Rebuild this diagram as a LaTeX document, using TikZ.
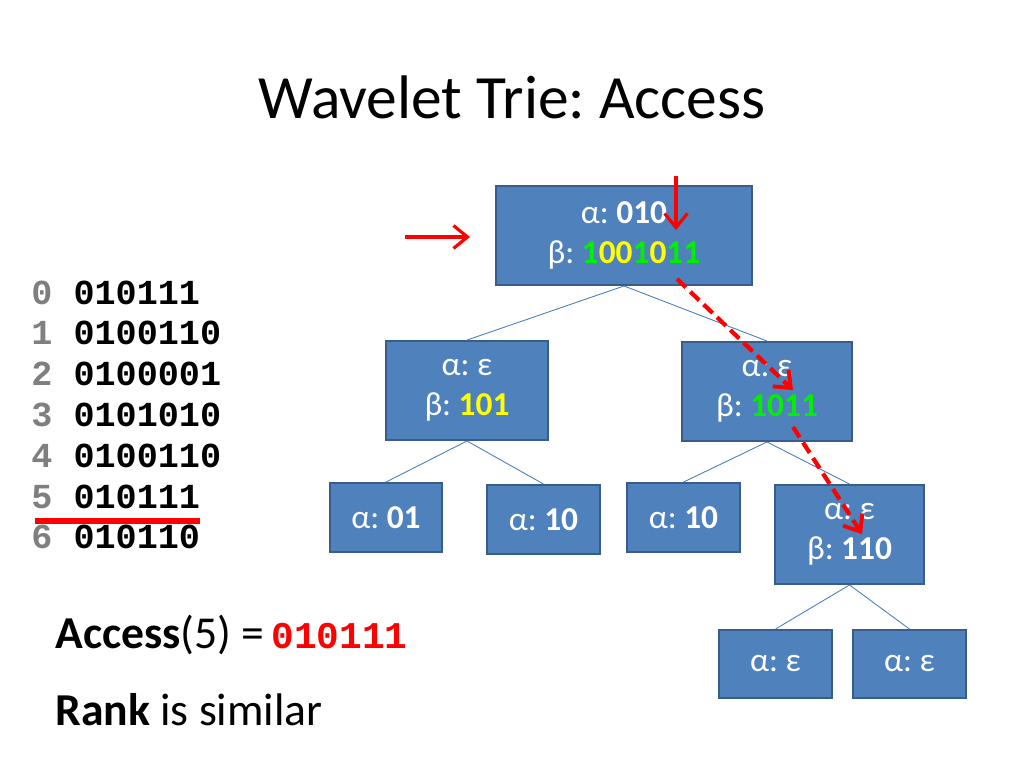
\documentclass[tikz,border=0pt]{standalone}
\usepackage{fontspec}
\setmainfont{Carlito}
\newfontfamily\codefont{Liberation Mono}
\usetikzlibrary{arrows.meta}
\frenchspacing

\definecolor{boxfill}{HTML}{4F81BD}
\definecolor{boxline}{HTML}{385D8A}
\definecolor{edgeblue}{HTML}{4A7EBB}
\definecolor{bitgreen}{HTML}{00F000}
\definecolor{bityellow}{HTML}{FFFF00}
\definecolor{indexgray}{HTML}{7F7F7F}
\definecolor{pathred}{HTML}{FF0000}

\newcommand{\bitone}{\textcolor{bitgreen}{1}}
\newcommand{\bitzero}{\textcolor{bityellow}{0}}

\tikzset{
  trienode/.style={draw=boxline, line width=1.1pt, fill=boxfill, text=white,
    inner sep=0pt, align=center, font=\fontsize{19}{23}\selectfont},
  trieedge/.style={draw=edgeblue, line width=0.5pt},
  patharrow/.style={draw=pathred, line width=1.8pt,
    -{Straight Barb[length=8pt, width=13pt, line width=1.8pt]}},
  pathdash/.style={patharrow, line width=2.4pt, dash pattern=on 7pt off 3.5pt,
    -{Straight Barb[length=8pt, width=13pt, line width=2.2pt]}}
}

\begin{document}
\begin{tikzpicture}[x=0.02cm, y=-0.02cm]
  \useasboundingbox (0,0) rectangle (1024,768);

  % Title
  \node [anchor=base] (title) at (512,118) {\fontsize{35}{42}\selectfont Wavelet Trie: Access};

  % Drawing the list of strings
  \foreach \i/\s in {0/010111, 1/0100110, 2/0100001, 3/0101010, 4/0100110, 5/010111, 6/010110} {
    \node [anchor=base west, inner sep=0pt, font=\codefont\bfseries\fontsize{20}{24}\selectfont]
      (row\i) at (31,304+40.8*\i) {\textcolor{indexgray}{\i}\ \s};
  }
  \draw [pathred, line width=3.2pt] (35,521) -- (200,521);

  % Drawing node root
  \node [trienode, minimum width=5.12cm, minimum height=1.98cm] (root) at (624,235.5)
    {α: \textbf{010}\\ β: \textbf{\bitone\bitzero\bitzero\bitone\bitzero\bitone\bitone}};

  % Drawing level 1
  \node [trienode, minimum width=3.24cm, minimum height=1.98cm] (n0) at (467,390.5)
    {α: ε\\ β: \textbf{\textcolor{bityellow}{101}}};
  \node [trienode, minimum width=3.40cm, minimum height=1.98cm] (n1) at (767,391.5)
    {α: ε\\ β: \textbf{\textcolor{bitgreen}{1011}}};

  % Drawing level 2
  \node [trienode, minimum width=2.24cm, minimum height=1.38cm] (n00) at (386,517.5) {α: \textbf{01}};
  \node [trienode, minimum width=2.26cm, minimum height=1.38cm] (n01) at (543.5,519.5) {α: \textbf{10}};
  \node [trienode, minimum width=2.26cm, minimum height=1.38cm] (n10) at (683.5,517.5) {α: \textbf{10}};
  \node [trienode, minimum width=2.98cm, minimum height=1.98cm] (n11) at (849.5,534.5)
    {α: ε\\ β: \textbf{110}};

  % Drawing level 3
  \node [trienode, minimum width=2.26cm, minimum height=1.36cm] (n110) at (775.5,664) {α: ε};
  \node [trienode, minimum width=2.26cm, minimum height=1.36cm] (n111) at (909.5,664) {α: ε};

  % Drawing edges
  \draw [trieedge] (root.south) -- (n0.north);
  \draw [trieedge] (root.south) -- (n1.north);
  \draw [trieedge] (n0.south) -- (n00.north);
  \draw [trieedge] (n0.south) -- (n01.north);
  \draw [trieedge] (n1.south) -- (n10.north);
  \draw [trieedge] (n1.south) -- (n11.north);
  \draw [trieedge] (n11.south) -- (n110.north);
  \draw [trieedge] (n11.south) -- (n111.north);

  % Marking the access path
  \coordinate (inA) at (405,237);
  \coordinate (inB) at (470,237);
  \coordinate (bitA) at (676,176);
  \coordinate (bitB) at (676,230);
  \coordinate (stepA) at (677,279);
  \coordinate (stepB) at (793,390);
  \coordinate (stepC) at (793,427);
  \coordinate (stepD) at (862,534);
  \draw [patharrow] (inA) -- (inB);
  \draw [patharrow] (bitA) -- (bitB);
  \draw [pathdash] (stepA) -- (stepB);
  \draw [pathdash] (stepC) -- (stepD);

  % Result
  \node [anchor=base west, inner sep=0pt] (access) at (55,648)
    {\fontsize{26}{30}\selectfont\textbf{Access}(5) =\hspace{4pt}{\codefont\bfseries\fontsize{21.5}{24}\selectfont\textcolor{pathred}{010111}}};
  \node [anchor=base west, inner sep=0pt] (rank) at (55,725)
    {\fontsize{26}{30}\selectfont\textbf{Rank} is similar};
\end{tikzpicture}
\end{document}
